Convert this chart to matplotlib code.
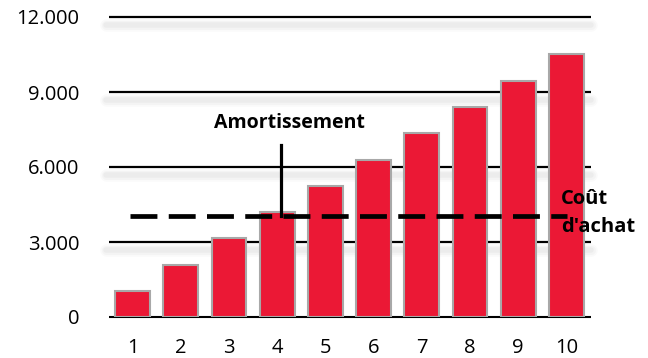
import matplotlib
matplotlib.use('Agg')

import matplotlib.pyplot as plt
import matplotlib.ticker as ticker
import numpy as np

# -----------------------------
# STYLE
# -----------------------------
plt.rcParams.update({
    'font.family': 'Open Sans',
    'font.size': 14,
})

# -----------------------------
# DATA
# -----------------------------
years = [1, 2, 3, 4, 5, 6, 7, 8, 9, 10]
depreciation = [1040, 2080, 3150, 4200, 5240, 6280, 7350, 8390, 9440, 10520]
purchase_cost = 4060
y_ticks = [0, 3000, 6000, 9000, 12000]

label_amort = 'Amortissement'
label_cost = "Coût\nd'achat"

bar_color = '#EB1835'
edge_color = '#A8A8A8'

# -----------------------------
# FIGURE
# -----------------------------
fig = plt.figure(figsize=(6.48, 3.58), dpi=100)
ax = fig.add_axes([108.5 / 648, 1 - 317 / 358, 482 / 648, 300 / 358])

x = np.array(years)

# grid lines with a soft shadow (no shadow on the base line)
for yv in y_ticks:
    if yv > 0:
        for lw, a in [(9, 0.02), (6.5, 0.025), (4, 0.03)]:
            ax.plot([0.45, 10.5], [yv - 310, yv - 310], color='black',
                    alpha=a, lw=lw, solid_capstyle='round', zorder=0.5,
                    clip_on=False)
    ax.plot([0.5, 10.5], [yv, yv], color='black', lw=1.6 if yv else 1.5,
            solid_capstyle='butt', zorder=1, clip_on=False)

ax.bar(x, depreciation, width=0.72, color=bar_color,
       edgecolor=edge_color, linewidth=1.5, zorder=2)

# purchase cost (dashed)
ax.plot([0.95, 10.02], [purchase_cost, purchase_cost], color='black',
        lw=3.4, dashes=(5.7, 2.4), zorder=3, clip_on=False)

# marker for amortisation
ax.plot([4.07, 4.07], [purchase_cost, 6880], color='black', lw=2.3, zorder=3)

ax.text(4.26, 7780, label_amort, ha='center', va='center',
        fontsize=14, fontweight='bold', zorder=4)
ax.text(9.89, 4150, label_cost, ha='left', va='center',
        fontsize=14.5, fontweight='bold', linespacing=1.5, zorder=4,
        clip_on=False)

# -----------------------------
# AXES
# -----------------------------
ax.set_xlim(0.5, 10.5)
ax.set_ylim(0, 12000)
ax.set_xticks(x)
ax.set_yticks(y_ticks)
ax.yaxis.set_major_formatter(
    ticker.FuncFormatter(lambda v, p: f'{v:,.0f}'.replace(',', '.')))
ax.tick_params(axis='y', length=0, pad=21, labelsize=14.5)
ax.tick_params(axis='x', length=0, pad=15, labelsize=14.5)

for s in ax.spines.values():
    s.set_visible(False)

plt.savefig('out.png', dpi=100)
plt.close()
